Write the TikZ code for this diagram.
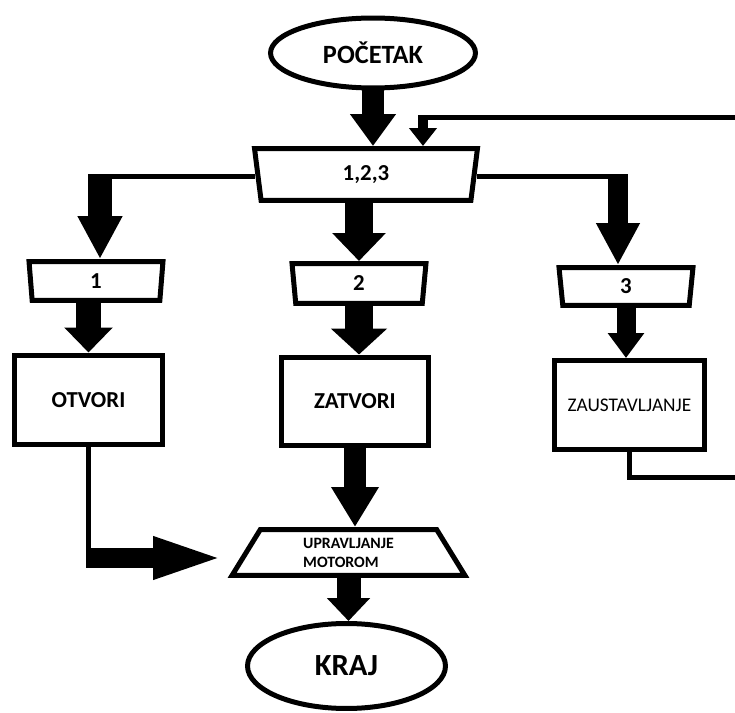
\documentclass[tikz,border=0pt]{standalone}
\usepackage{fontspec}
\setmainfont{Carlito}
\usetikzlibrary{arrows.meta,shapes.geometric,calc}
\tikzset{
	frame/.style={draw, line width=0.1cm},
	conn/.style={line width=0.1cm},
	terminal/.style={frame, ellipse, inner sep=0pt},
	selector/.style={frame, trapezium, trapezium angle=#1, shape border rotate=180, trapezium stretches body, inner sep=0pt},
	motor/.style={frame, trapezium, trapezium angle=#1, trapezium stretches body, inner sep=0pt},
	process/.style={frame, rectangle, inner sep=0pt},
	bigtext/.style={font=\bfseries\fontsize{13}{15}\selectfont}
}
\newcommand{\blockarrow}[5]{
	\draw[line width=#3, -{Triangle[width=#4, length=#5]}] #1 -- #2;
}

\begin{document}
\begin{tikzpicture}[x=0.02cm, y=-0.02cm]
	\useasboundingbox (0,0) rectangle (735,713);
%
	\node[terminal, minimum width=4.1cm, minimum height=1.4cm, font=\bfseries\fontsize{15}{17}\selectfont] (start) at (373,53) {POČETAK};
	\node[selector=70, minimum width=4.46cm, minimum height=1.04cm, bigtext] (sw) at (366,174.5) {1,2,3};
%
	\node[selector=78, minimum width=2.68cm, minimum height=0.78cm, bigtext] (c1) at (96,281) {1};
	\node[selector=76, minimum width=2.68cm, minimum height=0.8cm, bigtext] (c2) at (359,283.5) {2};
	\node[selector=76, minimum width=2.68cm, minimum height=0.76cm, bigtext] (c3) at (626,286.5) {3};
%
	\node[process, minimum width=2.98cm, minimum height=1.8cm, bigtext] (otvori) at (88.5,400) {OTVORI};
	\node[process, minimum width=2.96cm, minimum height=1.78cm, bigtext] (zatvori) at (355,401.5) {ZATVORI};
	\node[process, minimum width=3cm, minimum height=1.78cm, font=\fontsize{11}{13}\selectfont] (zaust) at (629.5,405) {ZAUSTAVLJANJE};
%
	\node[motor=46, minimum width=4.66cm, minimum height=0.92cm, align=left, font=\bfseries\fontsize{9}{10.8}\selectfont] (upr) at (348.5,552.5) {UPRAVLJANJE\\MOTOROM};
	\node[terminal, minimum width=3.96cm, minimum height=1.7cm, font=\bfseries\fontsize{17.5}{20}\selectfont] (end) at (346.5,666) {KRAJ};
%
	\coordinate (lb) at (100,177);
	\coordinate (rb) at (618,177);
	\draw[conn] (sw.west |- lb) -- (lb);
	\draw[conn] (sw.east |- rb) -- (rb);
%
	\blockarrow{(start.south)}{(start.south |- sw.north)}{0.46cm}{0.88cm}{0.64cm}
	\blockarrow{($(lb)+(0,-2.5)$)}{(lb |- c1.north)}{0.48cm}{0.84cm}{0.86cm}
	\blockarrow{(c2.north |- sw.south)}{(c2.north)}{0.56cm}{1.04cm}{0.56cm}
	\blockarrow{($(rb)+(0,-2.5)$)}{(rb |- c3.north)}{0.4cm}{0.82cm}{0.84cm}
%
	\blockarrow{(otvori.north |- c1.south)}{(otvori.north)}{0.5cm}{0.94cm}{0.5cm}
	\blockarrow{(c2.south)}{(c2.south |- zatvori.north)}{0.56cm}{1.1cm}{0.52cm}
	\blockarrow{(c3.south)}{(c3.south |- zaust.north)}{0.38cm}{0.7cm}{0.5cm}
%
	\blockarrow{(zatvori.south)}{(zatvori.south |- upr.north)}{0.44cm}{0.9cm}{0.8cm}
	\blockarrow{(upr.south)}{(upr.south |- end.north)}{0.48cm}{0.84cm}{0.46cm}
%
	\coordinate (lt) at (227,558);
	\draw[conn] (otvori.south) -- (otvori.south |- lt) coordinate (lm);
	\blockarrow{($(lm)+(-2.5,0)$)}{(lt)}{0.4cm}{0.74cm}{1.48cm}
%
	% loop back, its right side lies off the page
	\coordinate (fbR) at (760,478);
	\coordinate (fbT) at (760,118);
	\coordinate (fbL) at (423,118);
	\draw[conn] (zaust.south) |- (fbR) -- (fbT) -- (fbL);
	\blockarrow{($(fbL)+(0,-2.5)$)}{(fbL |- sw.north)}{0.2cm}{0.54cm}{0.36cm}
\end{tikzpicture}
\end{document}
